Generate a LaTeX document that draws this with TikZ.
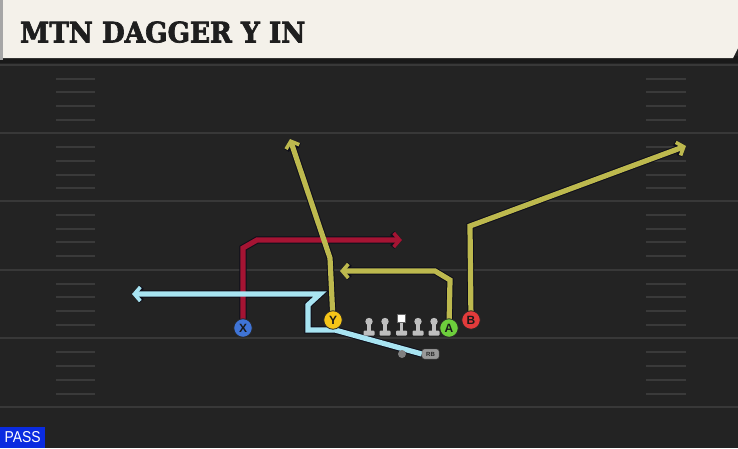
\documentclass[tikz,border=0pt]{standalone}
\usepackage{fontspec}
\setmainfont{DejaVu Sans}
\setsansfont{Liberation Sans}
\newfontfamily\titlefont{DejaVu Serif}[BoldFeatures={FakeBold=2.5}]
\usetikzlibrary{arrows.meta}
\definecolor{fieldbg}{HTML}{232323}
\definecolor{yardc}{HTML}{383838}
\definecolor{hashc}{HTML}{3A3A3A}
\definecolor{cream}{HTML}{F4F1EA}
\definecolor{titlec}{HTML}{1E1E1E}
\definecolor{outl}{HTML}{0E0E1A}
\definecolor{redr}{HTML}{A51433}
\definecolor{yelr}{HTML}{BDB94E}
\definecolor{bluer}{HTML}{A8E4F2}
\definecolor{pX}{HTML}{3F74D6}
\definecolor{pY}{HTML}{F5C518}
\definecolor{pA}{HTML}{6DCE3C}
\definecolor{pB}{HTML}{E23B3B}
\definecolor{lmgrey}{HTML}{BEBEBE}
\definecolor{passblue}{HTML}{0A2BE0}
\pgfdeclarelayer{fieldlayer}
\pgfdeclarelayer{routelayer}
\pgfsetlayers{fieldlayer,routelayer,main}
\tikzset{
  yard/.style={draw=yardc, line width=2.5pt},
  hashm/.style={draw=hashc, line width=2pt},
  tipout/.style={-{Straight Barb[length=6pt,width=14pt,line width=5.6pt]}},
  tipin/.style={-{Straight Barb[length=6pt,width=14pt,line width=3.6pt]}},
  routeout/.style={draw=outl, line width=7.2pt, line join=miter, tipout},
  routein/.style={line width=5.2pt, line join=miter, tipin},
  player/.style={circle, draw=black!85, line width=0.8pt, minimum size=18.5pt, inner sep=0pt,
    font=\sffamily\bfseries\fontsize{12}{12}\selectfont, text=black!90},
}
\begin{document}
\begin{tikzpicture}[x=1pt,y=-1pt]
\useasboundingbox (0,0) rectangle (738,448);
\begin{pgfonlayer}{fieldlayer}
  \fill[fieldbg] (0,0) rectangle (738,448);
  \foreach \y in {65,133,201,270,338,407} {\draw[yard] (0,\y) -- (738,\y);}
  \foreach \y in {79,92,106,120,147,161,175,188,215,229,242,256,284,297,311,325,352,366,380,394} {
    \draw[hashm] (56,\y) -- (95,\y);
    \draw[hashm] (646,\y) -- (686,\y);
  }
  \fill[black!90] (0,56) rectangle (738,63);
  \fill[black!35] (0,0) rectangle (3,60);
  \fill[cream] (3,0) -- (738,0) -- (738,48) -- (733,58) -- (3,58) -- cycle;
\end{pgfonlayer}
\node[anchor=south west, inner sep=0pt, text=titlec] (title) at (20,43)
  {\resizebox{285pt}{21pt}{\titlefont\bfseries MTN DAGGER Y IN}};
% players
\node[player, fill=pX] (X) at (243,328) {X};
\node[player, fill=pY] (Y) at (333,320) {Y};
\node[player, fill=pA] (A) at (449,328) {A};
\node[player, fill=pB] (B) at (471,320) {B};
% linemen
\foreach \x in {369,385,418,434} {
  \fill[lmgrey] (\x-1.7,322) rectangle (\x+1.7,332);
  \fill[lmgrey, rounded corners=1pt] (\x-5.5,330.5) rectangle (\x+5.5,335.5);
  \fill[lmgrey] (\x,321.5) circle[radius=3.7pt];
}
\fill[lmgrey] (400,322) rectangle (403.4,332);
\fill[lmgrey, rounded corners=1pt] (396.2,330.5) rectangle (407.2,335.5);
\node[draw=black!60, fill=white, minimum size=8pt, inner sep=0pt, line width=0.5pt] (C) at (401.7,318) {};
\node[circle, fill=black!50, minimum size=8pt, inner sep=0pt] (QB) at (402,354) {};
\node[draw=black!70, fill=black!40, rounded corners=2.5pt, minimum width=17pt, minimum height=10pt, inner sep=0pt,
  font=\sffamily\bfseries\fontsize{6}{6}\selectfont, text=black!85] (RB) at (430.5,354) {RB};
% route end points
\coordinate (xend) at (402,240);
\coordinate (yend) at (290,139);
\coordinate (aend) at (340,271);
\coordinate (bend) at (686,146);
\coordinate (rbend) at (132,294);
\begin{pgfonlayer}{routelayer}
  \draw[routeout] (X.center) -- (243,248) -- (257,240) -- (xend);
  \draw[routeout] (Y.center) -- (330,258) -- (yend);
  \draw[routeout] (A.center) -- (450,280) -- (435,271) -- (aend);
  \draw[routeout] (B.center) -- (470,226) -- (bend);
  \draw[routeout] (RB.west) -- (335,330) -- (308,330) -- (308,305) -- (320,294) -- (rbend);
  \draw[routein, draw=redr] (X.center) -- (243,248) -- (257,240) -- (xend);
  \draw[routein, draw=yelr] (Y.center) -- (330,258) -- (yend);
  \draw[routein, draw=yelr] (A.center) -- (450,280) -- (435,271) -- (aend);
  \draw[routein, draw=yelr] (B.center) -- (470,226) -- (bend);
  \draw[routein, draw=bluer] (RB.west) -- (335,330) -- (308,330) -- (308,305) -- (320,294) -- (rbend);
\end{pgfonlayer}
\node[fill=passblue, anchor=south west, minimum width=45pt, minimum height=21pt, inner sep=0pt, text=white] (pass) at (0,448)
  {\resizebox{36pt}{11pt}{\sffamily PASS}};
\end{tikzpicture}
\end{document}
